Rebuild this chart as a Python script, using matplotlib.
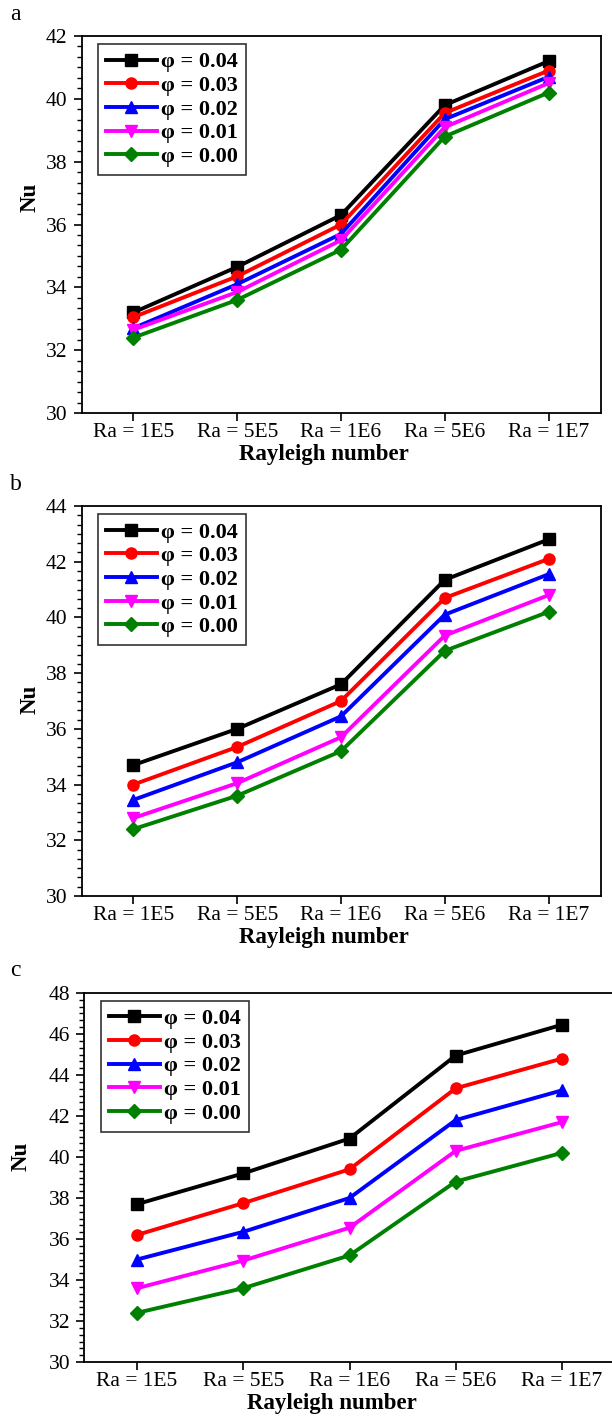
import numpy as np
import matplotlib
matplotlib.use('Agg')
import matplotlib.pyplot as plt
from matplotlib.ticker import MultipleLocator, AutoMinorLocator

plt.rcParams['font.family'] = ['Liberation Serif', 'DejaVu Serif']

# categories on the x axis
ra_labels = ['Ra = 1E5', 'Ra = 5E5', 'Ra = 1E6', 'Ra = 5E6', 'Ra = 1E7']
phi_labels = ['φ = 0.04', 'φ = 0.03', 'φ = 0.02', 'φ = 0.01', 'φ = 0.00']

# panel a
nu_a_004 = [33.2, 34.65, 36.3, 39.8, 41.2]
nu_a_003 = [33.05, 34.35, 36.0, 39.55, 40.9]
nu_a_002 = [32.7, 34.1, 35.7, 39.35, 40.7]
nu_a_001 = [32.65, 33.85, 35.5, 39.1, 40.5]
nu_a_000 = [32.4, 33.6, 35.2, 38.8, 40.2]

# panel b
nu_b_004 = [34.7, 36.0, 37.6, 41.35, 42.8]
nu_b_003 = [34.0, 35.35, 37.0, 40.7, 42.1]
nu_b_002 = [33.45, 34.8, 36.45, 40.1, 41.55]
nu_b_001 = [32.8, 34.05, 35.7, 39.35, 40.8]
nu_b_000 = [32.4, 33.6, 35.2, 38.8, 40.2]

# panel c
nu_c_004 = [37.7, 39.2, 40.9, 44.95, 46.45]
nu_c_003 = [36.2, 37.75, 39.4, 43.35, 44.8]
nu_c_002 = [35.0, 36.35, 38.0, 41.8, 43.25]
nu_c_001 = [33.6, 34.95, 36.55, 40.3, 41.7]
nu_c_000 = [32.4, 33.6, 35.2, 38.8, 40.2]

colors = ['black', '#ff0000', '#0000ff', '#ff00ff', '#008000']
markers = ['s', 'o', '^', 'v', 'D']
msizes = [8, 8, 8.5, 8.5, 7.5]

W, H = 612, 1416
fig = plt.figure(figsize=(W / 100, H / 100), dpi=100)


def px_axes(left, right, top, bottom):
    return fig.add_axes([left / W, 1 - bottom / H, (right - left) / W, (bottom - top) / H])


panels = [
    ('a', px_axes(81.5, 600.5, 36, 413), [nu_a_004, nu_a_003, nu_a_002, nu_a_001, nu_a_000],
     42, 15, (-0.078, 0.573), -0.081),
    ('b', px_axes(81.5, 600.5, 506, 896), [nu_b_004, nu_b_003, nu_b_002, nu_b_001, nu_b_000],
     44, 484, (-0.078, 0.505), -0.080),
    ('c', px_axes(84, 615, 993, 1362), [nu_c_004, nu_c_003, nu_c_002, nu_c_001, nu_c_000],
     48, 970, (-0.099, 0.558), -0.083),
]

x = np.arange(1, len(ra_labels) + 1)

for letter, ax, series, ytop, ylet, nu_pos, xlab_y in panels:
    for ys, c, m, ms, lab in zip(series, colors, markers, msizes, phi_labels):
        ax.plot(x, ys, color=c, marker=m, markersize=ms, linewidth=2.8, label=lab)
    ax.set_xlim(0.5, 5.5)
    ax.set_ylim(30, ytop)
    ax.set_xticks(x)
    ax.set_xticklabels(ra_labels)
    ax.yaxis.set_major_locator(MultipleLocator(2))
    ax.yaxis.set_minor_locator(AutoMinorLocator(6))
    ax.tick_params(axis='both', which='major', direction='out', length=6, width=1.2,
                   labelsize=15.5, top=False, right=False)
    ax.tick_params(axis='y', which='major', pad=4)
    ax.tick_params(axis='x', which='major', pad=1.5)
    ax.tick_params(axis='y', which='minor', direction='out', length=3.5, width=1.0, right=False)
    for sp in ax.spines.values():
        sp.set_linewidth(1.3)
    ax.set_xlabel('Rayleigh number', fontsize=16.5, fontweight='bold')
    ax.xaxis.set_label_coords(0.467, xlab_y)
    ax.set_ylabel('Nu', fontsize=16.5, fontweight='bold')
    ax.yaxis.set_label_coords(*nu_pos)
    leg = ax.legend(loc='upper left', bbox_to_anchor=(16.5 / 519, 1 - 8 / 377), borderaxespad=0,
                    prop={'weight': 'bold', 'size': 16}, fancybox=False, framealpha=1,
                    edgecolor='#333333', handlelength=2.3, handletextpad=0.2,
                    labelspacing=0.14, borderpad=0.35)
    leg.get_frame().set_linewidth(1.2)
    fig.text(10 / W, 1 - ylet / H, letter, fontsize=17, va='center', ha='left')

fig.savefig('out.png', dpi=100)
